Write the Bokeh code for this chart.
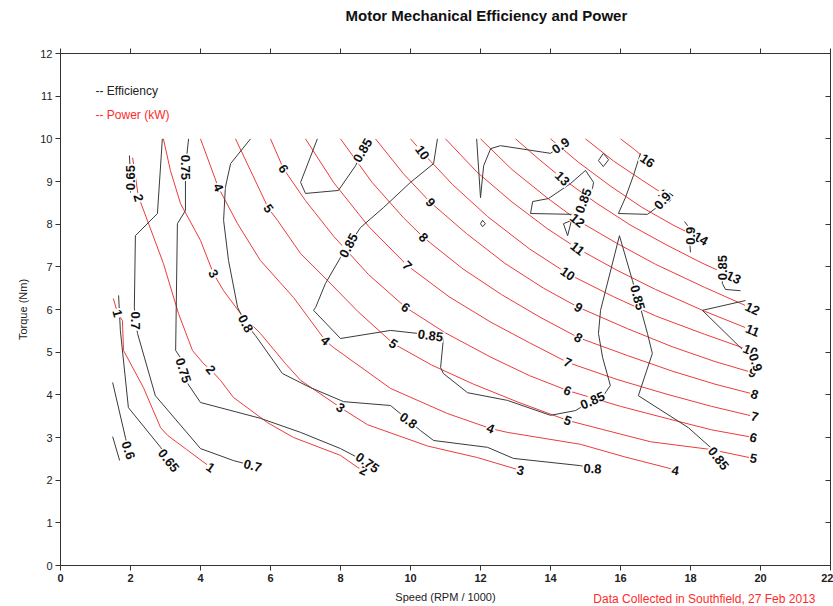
from bokeh.plotting import figure
from bokeh.models import ColumnDataSource, Label, LinearAxis, FixedTicker, Title
from bokeh.core.properties import value
from bokeh.embed import file_html
from bokeh.resources import INLINE

FONT = "Liberation Sans"

# ---------------- axes ----------------
x_ticks = [0, 2, 4, 6, 8, 10, 12, 14, 16, 18, 20, 22]
y_ticks = [0, 1, 2, 3, 4, 5, 6, 7, 8, 9, 10, 11, 12]

# ---------------- power contours (kW): speed (rpm/1000), torque (Nm) ----------------
p01_x = [1.51, 1.63, 1.77, 1.80, 2.37, 2.86, 3.06, 3.6, 4.29]
p01_y = [6.26, 5.91, 5.74, 5.04, 4.17, 3.23, 3.05, 2.72, 2.30]
p02_x = [2.06, 2.23, 2.29, 2.94, 3.37, 3.77, 4.09, 4.29, 4.57, 4.94, 5.91, 6.66, 8.0, 8.49, 8.66]
p02_y = [9.56, 8.62, 8.51, 7.08, 5.91, 5.04, 4.73, 4.59, 4.34, 3.94, 3.35, 3.0, 2.58, 2.30, 2.23]
p03_x = [2.94, 3.14, 3.43, 4.0, 4.37, 4.66, 5.14, 5.71, 6.43, 6.86, 8.0, 8.77, 10.49, 11.91, 13.14]
p03_y = [10.0, 9.26, 8.48, 7.62, 6.84, 6.44, 5.91, 5.44, 4.73, 4.34, 3.70, 3.30, 2.80, 2.53, 2.23]
p04_x = [4.0, 4.51, 5.06, 5.71, 6.66, 7.57, 7.8, 9.43, 11.06, 12.29, 12.77, 14.86, 16.1, 17.43, 17.57]
p04_y = [10.0, 8.86, 8.01, 7.15, 6.28, 5.27, 5.11, 4.15, 3.56, 3.21, 3.12, 2.84, 2.55, 2.27, 2.23]
p05_x = [5.0, 5.94, 6.2, 6.86, 7.63, 8.5, 9.51, 10.6, 11.8, 13.1, 14.49, 16.0, 16.86, 18.57, 19.8]
p05_y = [10.0, 8.37, 8.09, 7.31, 6.68, 5.95, 5.20, 4.70, 4.25, 3.82, 3.40, 3.08, 2.90, 2.72, 2.51]
p06_x = [6.0, 6.37, 7.0, 7.8, 8.8, 9.86, 11.0, 12.3, 13.4, 14.49, 16.0, 17.4, 18.6, 19.8]
p06_y = [10.0, 9.30, 8.55, 7.72, 6.82, 6.05, 5.45, 4.88, 4.45, 4.10, 3.73, 3.43, 3.18, 3.0]
p07_x = [7.0, 7.8, 8.8, 9.91, 11.1, 12.3, 13.4, 14.49, 15.9, 17.3, 18.6, 19.83]
p07_y = [10.0, 8.98, 7.95, 7.03, 6.30, 5.70, 5.22, 4.76, 4.36, 4.02, 3.73, 3.49]
p08_x = [8.0, 8.9, 9.8, 10.37, 11.5, 12.6, 13.7, 14.8, 16.2, 17.5, 18.7, 19.83]
p08_y = [10.0, 8.98, 8.15, 7.69, 6.95, 6.35, 5.82, 5.34, 4.92, 4.55, 4.25, 4.01]
p09_x = [9.0, 9.8, 10.57, 11.6, 12.7, 13.8, 14.8, 16.2, 17.5, 18.7, 19.77]
p09_y = [10.0, 9.18, 8.51, 7.78, 7.08, 6.50, 6.05, 5.55, 5.12, 4.78, 4.52]
p10_x = [10.0, 10.34, 11.2, 12.2, 13.4, 14.49, 15.8, 17.0, 18.4, 19.71]
p10_y = [10.0, 9.68, 8.93, 8.18, 7.42, 6.84, 6.30, 5.85, 5.42, 5.04]
p11_x = [11.0, 11.9, 12.9, 13.9, 14.77, 15.9, 17.0, 18.4, 19.77]
p11_y = [10.0, 9.22, 8.52, 7.90, 7.43, 6.92, 6.47, 5.96, 5.51]
p12_x = [12.0, 12.9, 13.9, 14.77, 15.9, 17.0, 18.4, 19.77]
p12_y = [10.0, 9.28, 8.62, 8.09, 7.55, 7.06, 6.52, 6.02]
p13_x = [13.0, 13.7, 14.34, 15.3, 16.3, 17.3, 18.3, 19.23]
p13_y = [10.0, 9.50, 9.07, 8.50, 7.97, 7.52, 7.10, 6.75]
p14_x = [14.0, 14.8, 15.7, 16.6, 17.5, 18.29]
p14_y = [10.0, 9.45, 8.90, 8.40, 7.98, 7.66]
p15_x = [15.0, 15.8, 16.6, 17.29]
p15_y = [10.0, 9.48, 9.04, 8.67]
p16_x = [16.0, 16.4, 16.77]
p16_y = [10.0, 9.75, 9.49]

power_label_text = ["1", "1", "2", "2", "2", "3", "3", "3", "4", "4", "4", "4",
                    "5", "5", "5", "5", "6", "6", "6", "6", "7", "7", "7",
                    "8", "8", "8", "9", "9", "9", "10", "10", "10",
                    "11", "11", "12", "12", "13", "13", "14", "15", "16"]
power_label_x = [1.63, 4.29, 2.23, 4.29, 8.66, 4.37, 8.0, 13.14, 4.51, 7.57, 12.29, 17.57,
                 5.94, 9.51, 14.49, 19.8, 6.37, 9.86, 14.49, 19.8, 9.91, 14.49, 19.83,
                 10.37, 14.8, 19.83, 10.57, 14.8, 19.77, 10.34, 14.49, 19.71,
                 14.77, 19.77, 14.77, 19.77, 14.34, 19.23, 18.29, 17.29, 16.77]
power_label_y = [5.91, 2.30, 8.62, 4.59, 2.23, 6.84, 3.70, 2.23, 8.86, 5.27, 3.21, 2.23,
                 8.37, 5.20, 3.40, 2.51, 9.30, 6.05, 4.10, 3.0, 7.03, 4.76, 3.49,
                 7.69, 5.34, 4.01, 8.51, 6.05, 4.52, 9.68, 6.84, 5.04,
                 7.43, 5.51, 8.09, 6.02, 9.07, 6.75, 7.66, 8.67, 9.49]
power_label_angle = [-75, -35, -75, -50, -25, -60, -35, -12, -65, -42, -22, -10,
                     -55, -35, -20, -12, -58, -38, -22, -15, -45, -25, -15,
                     -45, -30, -18, -50, -32, -20, -55, -35, -22,
                     -38, -22, -40, -25, -45, -25, -30, -35, -35]

# ---------------- efficiency contours ----------------
e060a_x = [1.49, 1.86, 1.94]
e060a_y = [4.29, 2.98, 2.70]
e060b_x = [1.49, 1.69]
e060b_y = [3.02, 2.46]
e065a_x = [1.66, 1.71, 1.94, 2.86, 3.09]
e065a_y = [6.33, 5.51, 3.70, 2.77, 2.46]
e065b_x = [1.97, 2.0, 2.0]
e065b_y = [9.61, 9.09, 8.74]
e070_x = [2.91, 2.77, 2.14, 2.11, 2.14, 2.20, 2.71, 4.0, 4.94, 5.49]
e070_y = [10.0, 8.25, 7.73, 6.05, 5.74, 5.44, 3.98, 2.74, 2.46, 2.34]
e075_x = [3.66, 3.57, 3.57, 3.34, 3.29, 3.43, 3.51, 3.63, 4.0, 5.71, 6.86, 8.0, 8.77]
e075_y = [10.0, 9.33, 8.32, 8.01, 5.04, 4.87, 4.57, 4.27, 3.82, 3.45, 3.12, 2.74, 2.41]
e080_x = [5.43, 4.86, 4.71, 4.66, 4.80, 5.06, 5.29, 5.57, 6.34, 7.14, 8.09, 9.43, 9.71,
          9.94, 10.29, 10.66, 12.2, 12.94, 14.86, 15.2]
e080_y = [10.0, 9.42, 8.86, 8.09, 7.15, 6.05, 5.67, 5.39, 4.50, 4.17, 3.84, 3.75, 3.56,
          3.40, 3.16, 2.93, 2.77, 2.51, 2.34, 2.27]
e085a_x = [7.34, 6.86, 7.0, 7.94, 8.43, 8.63]
e085a_y = [10.0, 8.98, 8.72, 8.79, 9.37, 9.73]
e085b_x = [10.77, 10.66, 10.0, 9.23, 8.57, 8.23, 8.0, 7.57, 7.29, 7.23,
           8.0, 9.43, 10.2, 10.57, 10.94, 10.86, 10.94, 11.63, 12.77, 14.0,
           14.71, 15.2, 15.51, 15.71, 15.49, 15.37, 15.43, 15.97, 16.34, 16.49,
           16.77, 16.91, 16.51, 17.94, 18.57, 18.8]
e085b_y = [10.0, 9.42, 8.98, 8.39, 7.92, 7.50, 7.22, 6.61, 6.05, 5.98,
           5.32, 5.51, 5.44, 5.39, 5.32, 4.64, 4.50, 4.05, 3.87, 3.52,
           3.63, 3.87, 3.98, 4.22, 4.87, 5.44, 5.98, 7.73, 6.68, 6.28,
           5.44, 4.97, 3.98, 3.23, 2.77, 2.51]
e085c_x = [14.94, 15.2, 15.23, 15.0, 14.57, 13.94, 13.49, 13.43, 14.63, 14.94]
e085c_y = [8.55, 8.84, 8.98, 9.26, 8.95, 8.60, 8.53, 8.25, 8.23, 8.55]
e085d_x = [18.91, 18.91, 19.0, 19.43]
e085d_y = [6.75, 6.61, 6.47, 6.44]
e090a_x = [11.89, 12.0, 12.09, 12.29, 12.57, 14.0, 14.29]
e090a_y = [10.0, 8.62, 9.37, 9.77, 9.84, 9.66, 9.84]
e090b_x = [16.57, 16.37, 16.14, 15.94, 16.77, 17.0, 17.2]
e090b_y = [9.66, 9.14, 8.62, 8.25, 8.23, 8.37, 8.55]
e090c_x = [17.83, 17.94, 18.0]
e090c_y = [8.06, 7.94, 7.34]
e090d_x = [19.57, 18.34, 19.51, 19.86]
e090d_y = [6.21, 5.98, 5.04, 4.76]
isl1_x = [15.37, 15.51, 15.66, 15.51, 15.37]
isl1_y = [9.49, 9.66, 9.51, 9.35, 9.49]
isl2_x = [14.37, 14.6, 14.49, 14.37]
isl2_y = [8.01, 8.09, 7.73, 8.01]
isl3_x = [12.0, 12.06, 12.14, 12.06, 12.0]
isl3_y = [8.01, 8.09, 8.01, 7.94, 8.01]

eff_label_text = ["0.6", "0.65", "0.65", "0.7", "0.7", "0.75", "0.75", "0.75",
                  "0.8", "0.8", "0.8", "0.85", "0.85", "0.85", "0.85", "0.85",
                  "0.85", "0.85", "0.85", "0.9", "0.9", "0.9", "0.9"]
eff_label_x = [1.94, 3.09, 2.0, 2.14, 5.49, 3.57, 3.51, 8.77,
               5.29, 9.94, 15.2, 8.63, 8.23, 10.57, 15.2, 16.49,
               18.8, 14.94, 18.91, 14.29, 17.2, 18.0, 19.86]
eff_label_y = [2.70, 2.46, 9.09, 5.74, 2.34, 9.33, 4.57, 2.41,
               5.67, 3.40, 2.27, 9.73, 7.50, 5.39, 3.87, 6.28,
               2.51, 8.55, 6.98, 9.84, 8.55, 7.73, 4.76]
eff_label_angle = [-72, -52, 90, -90, -15, -90, -72, -35,
                   -62, -35, -3, 60, 62, -8, 24, -75,
                   -52, 70, 90, 35, 48, 90, -72]

# ---------------- figure ----------------
p = figure(width=833, height=606, x_range=(0, 22), y_range=(0, 12),
           output_backend="svg", toolbar_location=None,
           title="Motor Mechanical Efficiency and Power",
           min_border_left=60, min_border_right=3, min_border_top=53, min_border_bottom=41)
p.title.align = "left"
p.title.offset = 285
p.title.text_font = FONT
p.title.text_font_size = "15px"
p.title.text_font_style = "bold"
p.title.text_color = "#111111"
p.title.standoff = 2

p.xgrid.visible = False
p.ygrid.visible = False
p.outline_line_color = "#333333"
p.background_fill_color = "white"
p.border_fill_color = "white"

for ax in (p.xaxis[0], p.yaxis[0]):
    ax.axis_line_color = "#333333"
    ax.major_tick_line_color = "#333333"
    ax.major_tick_out = 5
    ax.major_tick_in = 0
    ax.minor_tick_out = 0
    ax.minor_tick_in = 0
    ax.major_label_text_font = FONT
    ax.major_label_text_font_size = "11px"
    ax.major_label_text_color = "#222222"
    ax.axis_label_text_font = FONT
    ax.axis_label_text_font_size = "11px"
    ax.axis_label_text_font_style = "normal"
    ax.axis_label_text_color = "#222222"
    ax.major_label_standoff = 3
p.xaxis[0].ticker = FixedTicker(ticks=x_ticks)
p.yaxis[0].ticker = FixedTicker(ticks=y_ticks)
p.xaxis[0].major_label_text_font_style = "bold"
p.xaxis[0].axis_label = "Speed (RPM / 1000)"
p.yaxis[0].axis_label = "Torque (Nm)"
p.xaxis[0].axis_label_standoff = 6
p.yaxis[0].axis_label_standoff = 8

# top axis: ticks only; a blank axis title keeps room between frame and chart title
top = LinearAxis(ticker=FixedTicker(ticks=x_ticks), major_label_text_font_size="0px",
                 major_tick_out=5, major_tick_in=0, minor_tick_out=0, minor_tick_in=0,
                 major_label_standoff=0, axis_line_color="#333333", major_tick_line_color="#333333",
                 axis_label=" ", axis_label_text_font_size="14px", axis_label_standoff=5)
p.add_layout(top, "above")
right = LinearAxis(ticker=FixedTicker(ticks=y_ticks), major_label_text_font_size="0px",
                   major_tick_out=0, major_tick_in=5, minor_tick_out=0, minor_tick_in=0,
                   major_label_standoff=0, axis_line_color="#333333", major_tick_line_color="#333333")
p.add_layout(right, "right")

# footer note below the x axis, at the level of the axis title
footer = Title(text="Data Collected in Southfield, 27 Feb 2013", align="right", offset=15,
               vertical_align="top", standoff=-28, text_font=FONT, text_font_size="12px",
               text_font_style="normal", text_color="#ff2a2a")
p.add_layout(footer, "below")

# power lines
pxs = [p01_x, p02_x, p03_x, p04_x, p05_x, p06_x, p07_x, p08_x,
       p09_x, p10_x, p11_x, p12_x, p13_x, p14_x, p15_x, p16_x]
pys = [p01_y, p02_y, p03_y, p04_y, p05_y, p06_y, p07_y, p08_y,
       p09_y, p10_y, p11_y, p12_y, p13_y, p14_y, p15_y, p16_y]
p.multi_line(xs="xs", ys="ys", source=ColumnDataSource(dict(xs=pxs, ys=pys)),
             line_color="#ee3b3b", line_width=1)

# efficiency lines
exs = [e060a_x, e060b_x, e065a_x, e065b_x, e070_x, e075_x, e080_x, e085a_x, e085b_x,
       e085c_x, e085d_x, e090a_x, e090b_x, e090c_x, e090d_x, isl1_x, isl2_x, isl3_x]
eys = [e060a_y, e060b_y, e065a_y, e065b_y, e070_y, e075_y, e080_y, e085a_y, e085b_y,
       e085c_y, e085d_y, e090a_y, e090b_y, e090c_y, e090d_y, isl1_y, isl2_y, isl3_y]
p.multi_line(xs="xs", ys="ys", source=ColumnDataSource(dict(xs=exs, ys=eys)),
             line_color="#3a3a3a", line_width=1)

label_style = dict(text_font=value(FONT), text_font_size="13px", text_font_style="bold",
                   text_align="center", text_baseline="middle", text_color="#111111",
                   angle_units="deg", background_fill_color="white", padding=1)
p.text(x="x", y="y", text="text", angle="angle",
       source=ColumnDataSource(dict(x=power_label_x, y=power_label_y,
                                    text=power_label_text, angle=power_label_angle)),
       **label_style)
p.text(x="x", y="y", text="text", angle="angle",
       source=ColumnDataSource(dict(x=eff_label_x, y=eff_label_y,
                                    text=eff_label_text, angle=eff_label_angle)),
       **label_style)

# legend texts
p.add_layout(Label(x=1.0, y=11.13, text="-- Efficiency", text_font=FONT, text_font_size="12px",
                   text_color="#222222", text_baseline="middle"))
p.add_layout(Label(x=1.0, y=10.57, text="-- Power (kW)", text_font=FONT, text_font_size="12px",
                   text_color="#ff2a2a", text_baseline="middle"))

open("out.html", "w").write(file_html(p, INLINE))
